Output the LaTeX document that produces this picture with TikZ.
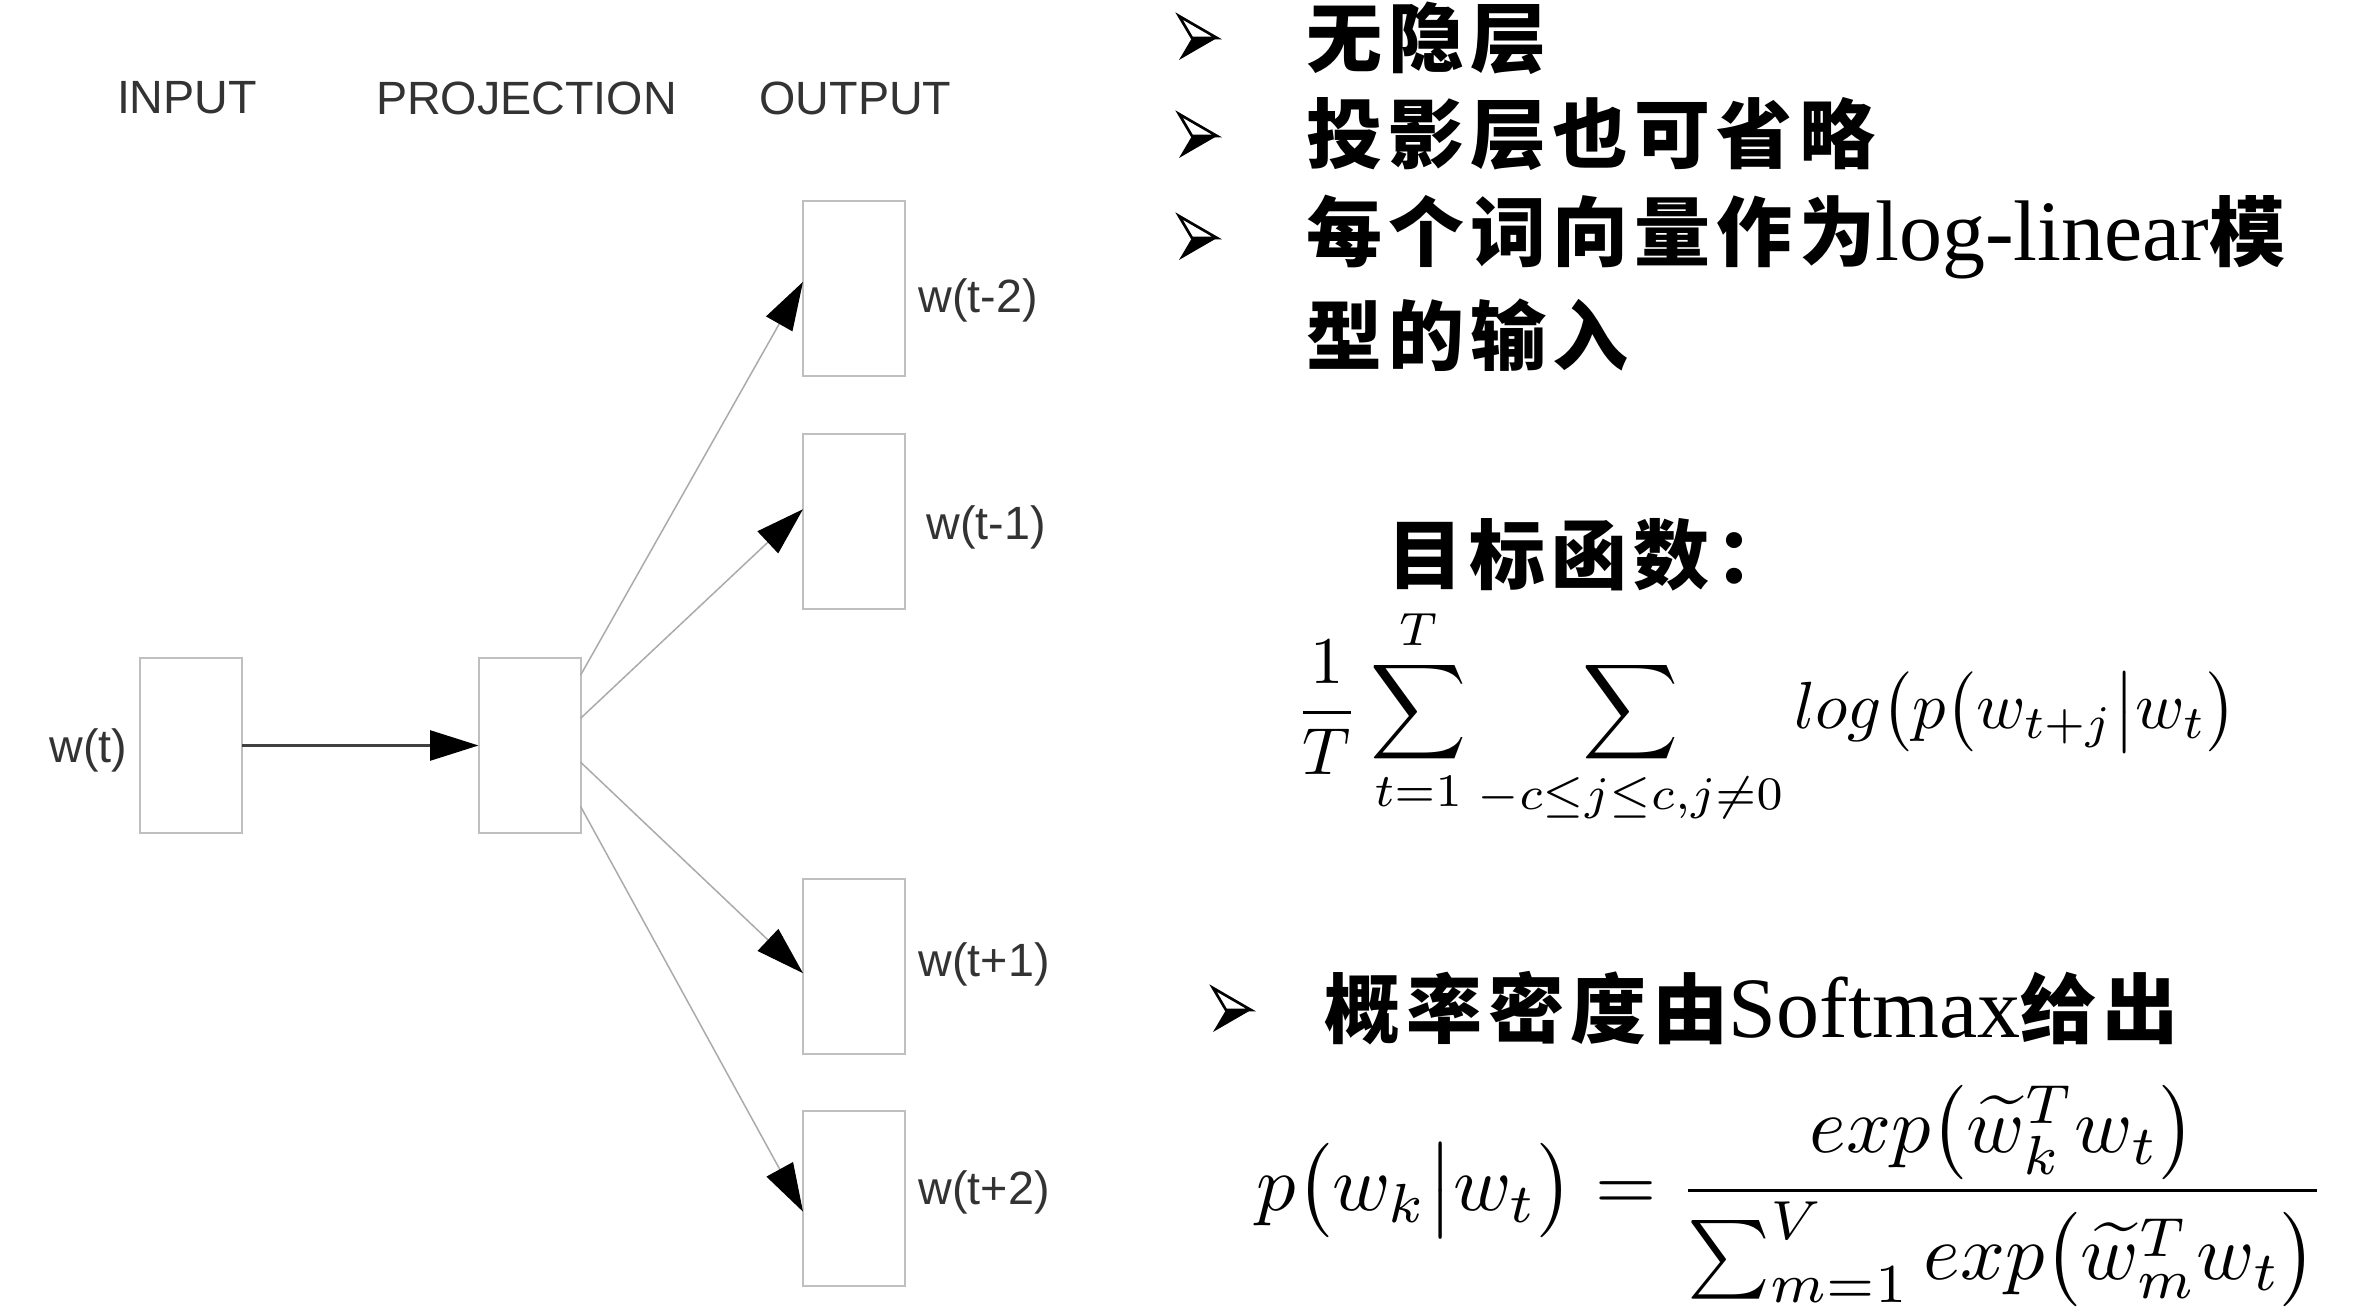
\RequirePackage{fix-cm}
\documentclass[tikz,border=0pt]{standalone}
\usepackage{amsmath}
\usepackage{graphicx}
\usepackage{fontspec}
\newfontfamily\arialf{Liberation Sans}
\newfontfamily\timesf{Liberation Serif}
\newfontfamily\cjkf[LetterSpace=8]{Noto Sans CJK SC}
\usetikzlibrary{arrows.meta,calc}
\definecolor{txtgray}{HTML}{333333}
\definecolor{boxgray}{HTML}{BFBFBF}
\definecolor{linegray}{HTML}{ABABAB}
\definecolor{darkline}{HTML}{404040}
\begin{document}
\begin{tikzpicture}[x=0.3pt,y=-0.3pt,
  box/.style={draw=boxgray,line width=0.6pt,fill=white,minimum width=30.6pt,minimum height=52.5pt,inner sep=0pt,outer sep=0pt},
  hdr/.style={font=\arialf\fontsize{14}{16}\selectfont,text=txtgray,inner sep=0pt},
  lbl/.style={font=\arialf\fontsize{14}{16}\selectfont,text=txtgray,inner sep=0pt},
  garrow/.style={draw=linegray,line width=0.45pt,-{Triangle[length=14.5pt,width=9pt,color=black,fill=black]}},
  harrow/.style={draw=darkline,line width=0.7pt,-{Triangle[length=14.5pt,width=9pt,color=black,fill=black]}},
  cjkline/.style={anchor=west,inner sep=0pt,font=\cjkf\bfseries\fontsize{22.8}{26}\selectfont},
  arrowbul/.pic={
    \draw[line width=0.8pt,line join=miter,fill=white] (-19,-22) -- (19,0) -- (-6,0) -- cycle;
    \fill[black] (-6,0) -- (19,0) -- (-19,22) -- cycle;
  }
]
\fill[white] (0,0) rectangle (2364,1314);
\useasboundingbox (0,0) rectangle (2364,1314);

% headers
\node[hdr] (hin) at (187,98) {INPUT};
\node[hdr] (hproj) at (526.5,98) {PROJECTION};
\node[hdr] (hout) at (855.5,98) {OUTPUT};

% boxes
\node[box] (in) at (191,745.5) {};
\node[box] (proj) at (529.5,745.5) {};
\node[box] (o1) at (854,289) {};
\node[box] (o2) at (854,521) {};
\node[box] (o3) at (854,966) {};
\node[box] (o4) at (854,1198) {};

% labels
\node[lbl,anchor=east] (lin) at (128,750) {w(t)};
\node[lbl,anchor=west] (l1) at (918,300) {w(t-2)};
\node[lbl,anchor=west] (l2) at (926,527) {w(t-1)};
\node[lbl,anchor=west] (l3) at (918,964) {w(t+1)};
\node[lbl,anchor=west] (l4) at (918,1192) {w(t+2)};

% connectors
\draw[harrow] (in.east) -- (proj.west);
\draw[garrow] (proj.54) -- (o1.172);
\draw[garrow] (proj.28) -- (o2.167);
\draw[garrow] (proj.-18) -- (o3.188);
\draw[garrow] (proj.-50) -- (o4.195);

% bullets
\pic (b1) at (1198,38) {arrowbul};
\pic (b2) at (1198,136) {arrowbul};
\pic (b3) at (1198,238) {arrowbul};
\pic (b4) at (1232,1010) {arrowbul};

% right side text
\node[cjkline] (t1) at (1306,38) {无隐层};
\node[cjkline] (t2) at (1306,134) {投影层也可省略};
\node[cjkline] (t3) at (1306,237) {每个词向量作为{\timesf\mdseries\fontsize{25.8}{28}\selectfont log-linear}模};
\node[cjkline] (t4) at (1306,335) {型的输入};

\node[cjkline] (obj) at (1387,555) {目标函数：};

\node[anchor=west,inner sep=0pt] (f1) at (1294,716) {\scalebox{2.0}{%
  $\displaystyle \frac{1}{T}\sum_{t=1}^{T}\sum_{-c\leq j\leq c,j\neq 0} log\bigl(p\bigl(w_{t+j}\big|w_t\bigr)$}};

\node[cjkline] (t5) at (1324,1008) {概率密度由{\timesf\mdseries\fontsize{25.8}{28}\selectfont Softmax}给出};

\node[anchor=west,inner sep=0pt] (f2) at (1256,1196) {\scalebox{2.36}{%
  $\displaystyle p\bigl(w_k\big|w_t\bigr)=\frac{exp\bigl(\widetilde{w}_k^T w_t\bigr)}{\sum_{m=1}^{V}exp\bigl(\widetilde{w}_m^T w_t\bigr)}$}};
\end{tikzpicture}
\end{document}
